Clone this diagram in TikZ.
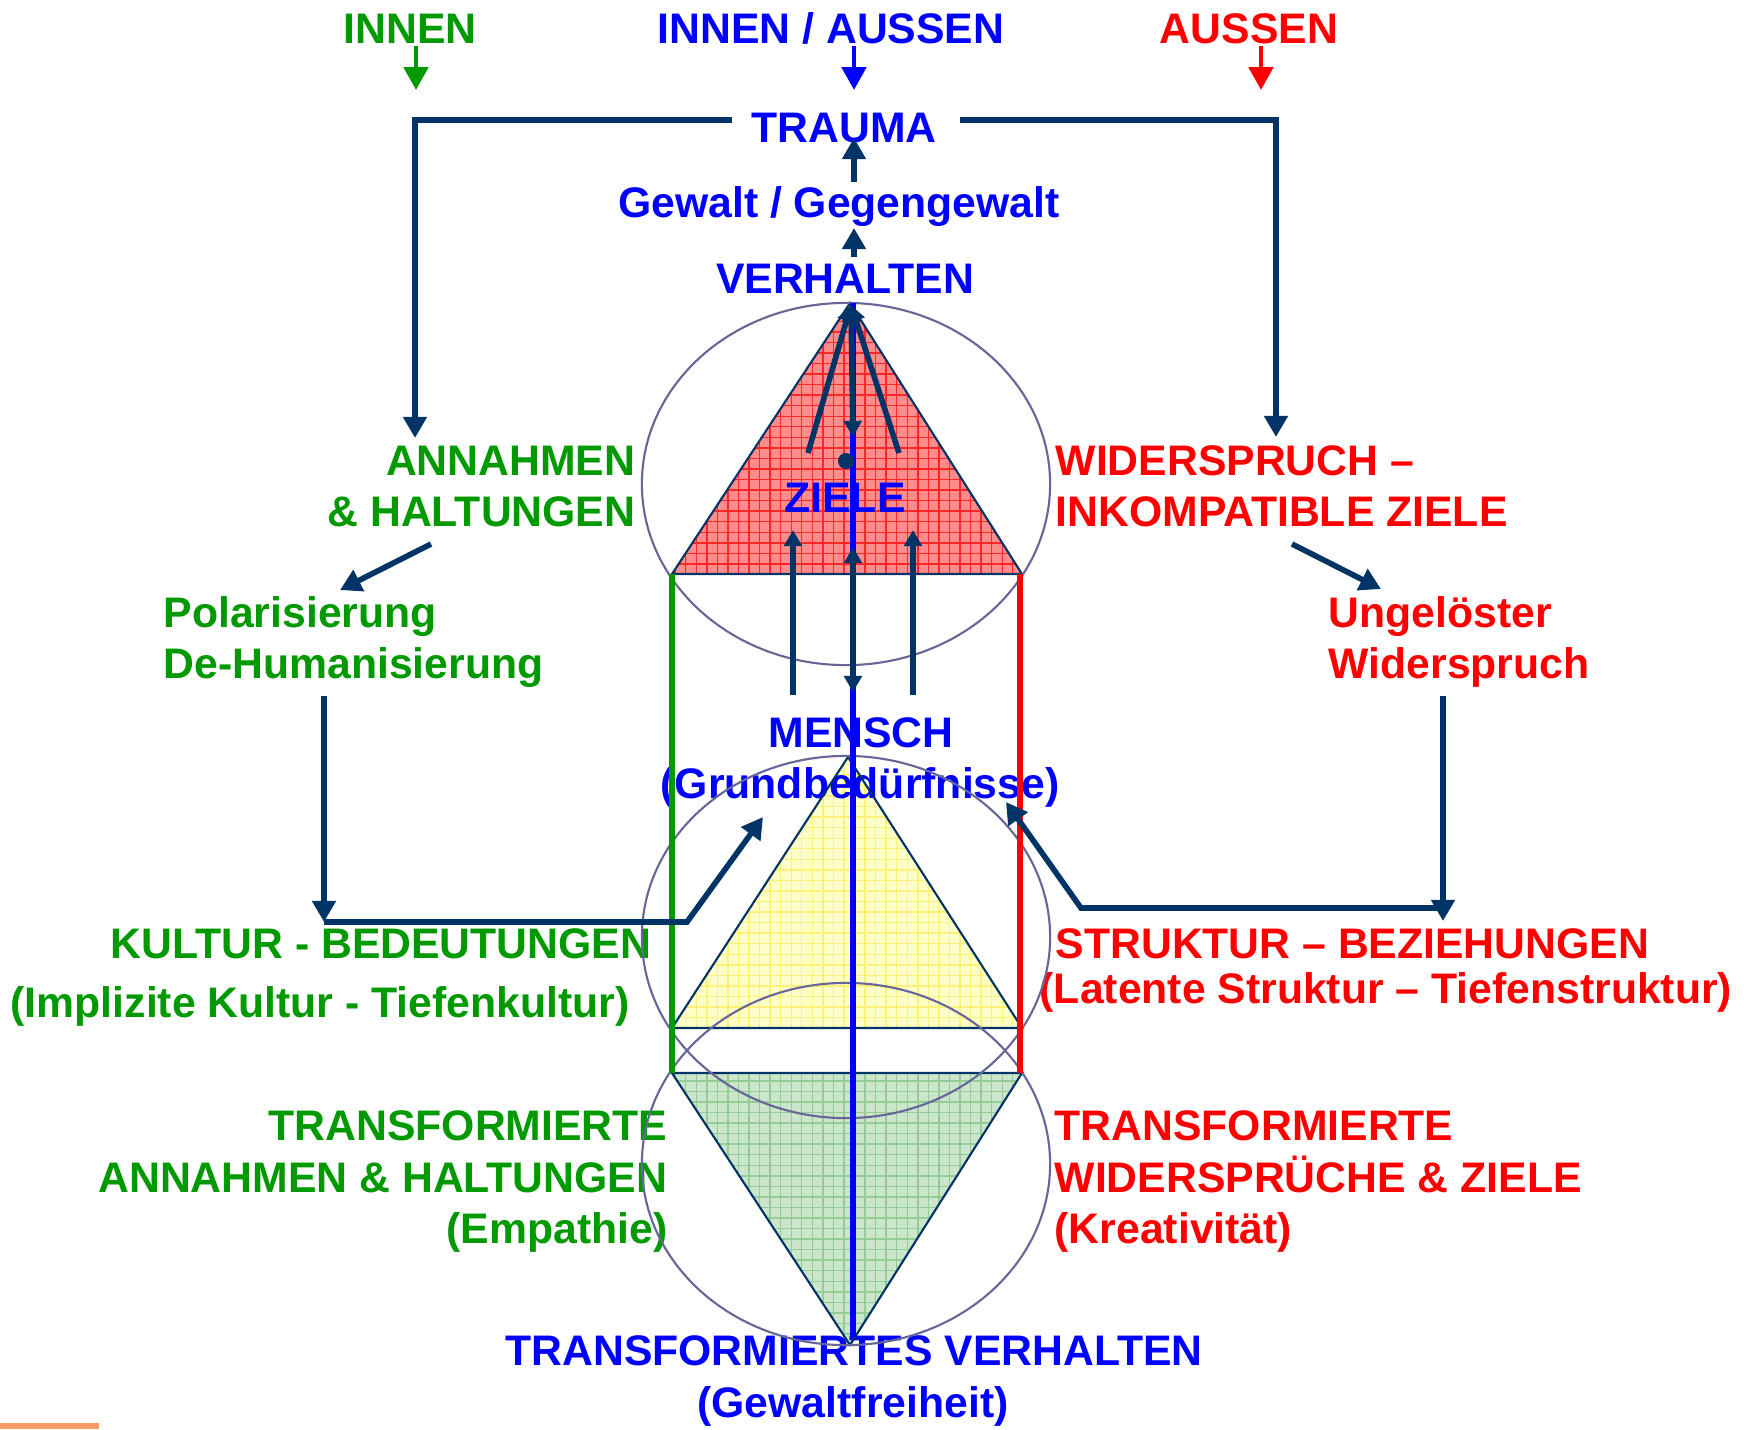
\documentclass[tikz,border=0pt]{standalone}
\usepackage{fontspec}
\setmainfont{Liberation Sans}
\usetikzlibrary{arrows.meta,patterns}
\definecolor{cgreen}{RGB}{0,153,0}
\definecolor{cblue}{RGB}{0,0,255}
\definecolor{cred}{RGB}{255,0,0}
\definecolor{navy}{RGB}{0,51,102}
\definecolor{ellc}{RGB}{102,102,153}
\definecolor{orng}{RGB}{255,153,102}
\definecolor{redfill}{RGB}{255,140,140}
\definecolor{redgrid}{RGB}{255,40,40}
\definecolor{yelfill}{RGB}{255,255,200}
\definecolor{yelgrid}{RGB}{255,240,120}
\definecolor{grnfill}{RGB}{204,230,204}
\definecolor{grngrid}{RGB}{150,205,150}
\begin{document}
\begin{tikzpicture}[x=0.01cm,y=-0.01cm,
  lbl/.style={font=\fontsize{12.15pt}{14pt}\selectfont\bfseries, inner sep=0pt},
  gl/.style={lbl,text=cgreen}, bl/.style={lbl,text=cblue}, rl/.style={lbl,text=cred},
  nav/.style={draw=navy,line width=1.6pt,line join=miter},
  navtip/.style={-{Triangle[width=6.5pt,length=6pt]}},
  smtip/.style={-{Triangle[width=5pt,length=4.6pt]}},
  dbltip/.style={{Triangle[width=5pt,length=4.6pt]}-{Triangle[width=5pt,length=4.6pt]}},
  toparrow/.style={line width=1.4pt,-{Triangle[width=6.8pt,length=6.5pt]}},
  ellstyle/.style={draw=ellc,line width=0.6pt},
  triout/.style={draw=navy,line width=0.6pt,line join=miter}]

\fill[white] (0,0) rectangle (1744,1429);
\useasboundingbox (0,0) rectangle (1744,1429);

% triangle vertices
\coordinate (A1) at (850,303);  \coordinate (L1) at (672,574);  \coordinate (R1) at (1022,574);
\coordinate (A2) at (848,757);  \coordinate (L2) at (672,1028); \coordinate (R2) at (1022,1028);
\coordinate (A3) at (850,1345); \coordinate (L3) at (672,1073); \coordinate (R3) at (1022,1073);

% fills
\fill[redfill] (A1) -- (L1) -- (R1) -- cycle;
\fill[pattern=grid, pattern color=redgrid] (A1) -- (L1) -- (R1) -- cycle;
\fill[yelfill] (A2) -- (L2) -- (R2) -- cycle;
\fill[pattern=grid, pattern color=yelgrid] (A2) -- (L2) -- (R2) -- cycle;
\fill[grnfill] (A3) -- (L3) -- (R3) -- cycle;
\fill[pattern=grid, pattern color=grngrid] (A3) -- (L3) -- (R3) -- cycle;

% labels
\node[gl, anchor=base] (innen) at (410,43) {INNEN};
\node[bl, anchor=base] (innenaussen) at (831,43) {INNEN / AUSSEN};
\node[rl, anchor=base] (aussen) at (1249,43) {AUSSEN};
\node[bl, anchor=base] (trauma) at (844,142) {TRAUMA};
\node[bl, anchor=base] (gewalt) at (839,217) {Gewalt / Gegengewalt};
\node[bl, anchor=base] (verhalten) at (845,293) {VERHALTEN};
\node[bl, anchor=base] (ziele) at (845,512) {ZIELE};

\node[gl, anchor=base east] (ann1) at (636,475) {ANNAHMEN};
\node[gl, anchor=base east] (ann2) at (636,526) {\& HALTUNGEN};
\node[rl, anchor=base west] (wid1) at (1055,475) {WIDERSPRUCH –};
\node[rl, anchor=base west] (wid2) at (1055,526) {INKOMPATIBLE ZIELE};

\node[gl, anchor=base west] (pol1) at (163,627) {Polarisierung};
\node[gl, anchor=base west] (pol2) at (163,678) {De-Humanisierung};
\node[rl, anchor=base west] (ung1) at (1328,627) {Ungelöster};
\node[rl, anchor=base west] (ung2) at (1328,678) {Widerspruch};

\node[bl, anchor=base] (mensch1) at (861,747) {MENSCH};
\node[bl, anchor=base] (mensch2) at (860,798) {(Grundbedürfnisse)};

\node[gl, anchor=base east] (kul1) at (652,958) {KULTUR - BEDEUTUNGEN};
\node[gl, anchor=base west] (kul2) at (10,1017) {(Implizite Kultur - Tiefenkultur)};
\node[rl, anchor=base west] (str1) at (1055,958) {STRUKTUR – BEZIEHUNGEN};
\node[rl, anchor=base west] (str2) at (1039,1003) {(Latente Struktur – Tiefenstruktur)};

\node[gl, anchor=base east] (tal1) at (668,1140) {TRANSFORMIERTE};
\node[gl, anchor=base east] (tal2) at (668,1192) {ANNAHMEN \& HALTUNGEN};
\node[gl, anchor=base east] (tal3) at (668,1243) {(Empathie)};
\node[rl, anchor=base west] (twr1) at (1054,1140) {TRANSFORMIERTE};
\node[rl, anchor=base west] (twr2) at (1054,1192) {WIDERSPRÜCHE \& ZIELE};
\node[rl, anchor=base west] (twr3) at (1054,1243) {(Kreativität)};

\node[bl, anchor=base] (tv1) at (854,1365) {TRANSFORMIERTES VERHALTEN};
\node[bl, anchor=base] (tv2) at (853,1417) {(Gewaltfreiheit)};

% triangle outlines
\draw[triout] (L1) -- (A1) -- (R1) -- cycle;
\draw[triout] (L2) -- (A2) -- (R2) -- cycle;
\draw[triout] (L3) -- (A3) -- (R3) -- cycle;

% ellipses
\draw[ellstyle] (846,484) ellipse [x radius=2.04cm, y radius=1.81cm];
\draw[ellstyle] (846,937) ellipse [x radius=2.04cm, y radius=1.81cm];
\draw[ellstyle] (846,1164) ellipse [x radius=2.04cm, y radius=1.81cm];

% coloured vertical lines
\draw[cgreen, line width=1.5pt] (L1) -- (L3);
\draw[cred, line width=1.5pt] (1020,574) -- (1020,1073);
\coordinate (btop) at (853,303); \coordinate (bbot) at (853,1337);
\draw[cblue, line width=1.7pt] (btop) -- (bbot);

% top coloured arrows
\coordinate (ga) at (416,46);  \coordinate (gb) at (416,90);
\coordinate (ba) at (854,46);  \coordinate (bb) at (854,90);
\coordinate (ra) at (1261,46); \coordinate (rb) at (1261,90);
\draw[cgreen, toparrow] (ga) -- (gb);
\draw[cblue, toparrow] (ba) -- (bb);
\draw[cred, toparrow] (ra) -- (rb);

% trauma bracket
\coordinate (trl) at (732,120); \coordinate (trr) at (960,120);
\coordinate (annt) at (415,438); \coordinate (widt) at (1276,437);
\draw[nav, navtip] (trl) -| (annt);
\draw[nav, navtip] (trr) -| (widt);

% chain up to trauma
\coordinate (g1) at (854,182); \coordinate (g2) at (854,138);
\coordinate (v1) at (854,257); \coordinate (v2) at (854,228);
\draw[nav, navtip] (g1) -- (g2);
\draw[nav, navtip] (v1) -- (v2);

% arrows in top triangle
\coordinate (apx) at (851,305);
\coordinate (zl) at (808,453); \coordinate (zr) at (899,453);
\coordinate (zc) at (853,437);
\draw[nav, smtip] (zl) -- (apx);
\draw[nav, smtip] (zr) -- (apx);
\draw[nav, dbltip] (zc) -- (apx);
\fill[navy] (846,461) circle [radius=0.08cm];

% arrows from MENSCH up
\coordinate (m1) at (793,695); \coordinate (m1t) at (793,530);
\coordinate (m2) at (913,695); \coordinate (m2t) at (913,530);
\coordinate (mc) at (853,692); \coordinate (mct) at (853,547);
\draw[nav, smtip] (m1) -- (m1t);
\draw[nav, smtip] (m2) -- (m2t);
\draw[nav, dbltip] (mc) -- (mct);

% left side
\coordinate (a1) at (431,544); \coordinate (a2) at (340,590);
\draw[nav, navtip] (a1) -- (a2);
\coordinate (pd1) at (324,696); \coordinate (pd2) at (324,922);
\coordinate (pk1) at (687,922); \coordinate (pk2) at (763,817);
\draw[nav, navtip] (pd1) -- (pd2);
\draw[nav, navtip] (pd2) -- (pk1) -- (pk2);

% right side
\coordinate (w1) at (1292,544); \coordinate (w2) at (1381,589);
\draw[nav, navtip] (w1) -- (w2);
\coordinate (ud1) at (1443,696); \coordinate (ud2) at (1443,921);
\coordinate (ud3) at (1443,908); \coordinate (rk1) at (1081,908); \coordinate (rk2) at (1006,802);
\draw[nav, navtip] (ud1) -- (ud2);
\draw[nav, navtip] (ud3) -- (rk1) -- (rk2);

% orange bar
\fill[orng] (0,1423) rectangle (99,1429);
\end{tikzpicture}
\end{document}
